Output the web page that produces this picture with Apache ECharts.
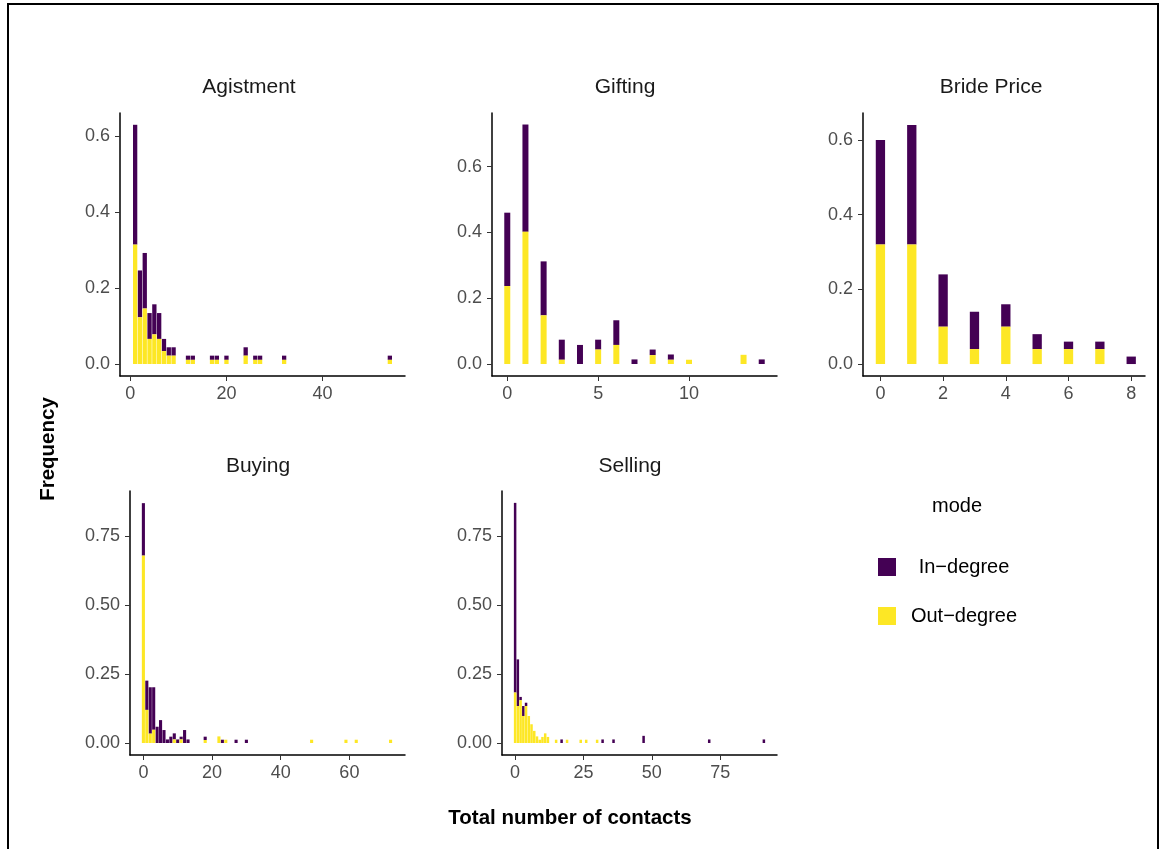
<!DOCTYPE html>
<html>
<head>
<meta charset="utf-8">
<title>Total number of contacts</title>
<script src="https://cdn.jsdelivr.net/npm/echarts@6/dist/echarts.min.js"></script>
<style>
  html, body { margin: 0; padding: 0; background: #fff; }
  #chart { width: 1160px; height: 849px; }
</style>
</head>
<body>
<div id="chart"></div>
<script>
// number of contacts (x) and frequency of in / out degree, one set per trade type
const agistX   = [1, 2, 3, 4, 5, 6, 7, 8, 9, 12, 13, 17, 18, 20, 24, 26, 27, 32, 54]
const agistIn  = [0.315, 0.123, 0.146, 0.068, 0.079, 0.068, 0.032, 0.022, 0.022, 0.011, 0.011, 0.011, 0.011, 0.011, 0.022, 0.011, 0.011, 0.011, 0.011]
const agistOut = [0.314, 0.123, 0.146, 0.066, 0.078, 0.066, 0.034, 0.022, 0.022, 0.011, 0.011, 0.011, 0.011, 0.011, 0.022, 0.011, 0.011, 0.011, 0.011]

const giftX   = [0, 1, 2, 3, 4, 5, 6, 7, 8, 9, 10, 13, 14]
const giftIn  = [0.223, 0.326, 0.164, 0.061, 0.058, 0.030, 0.075, 0.014, 0.017, 0.016, 0, 0, 0.014]
const giftOut = [0.237, 0.402, 0.148, 0.013, 0, 0.044, 0.058, 0, 0.027, 0.013, 0.013, 0.028, 0]

const brideX   = [0, 1, 2, 3, 4, 5, 6, 7, 8]
const brideIn  = [0.28, 0.32, 0.14, 0.10, 0.06, 0.04, 0.02, 0.02, 0.02]
const brideOut = [0.32, 0.32, 0.10, 0.04, 0.10, 0.04, 0.04, 0.04, 0]

const buyX   = [0, 1, 2, 3, 4, 5, 6, 7, 8, 9, 10, 11, 12, 13, 18, 22, 23, 24, 27, 30, 49, 59, 62, 72]
const buyIn  = [0.190, 0.106, 0.168, 0.154, 0.059, 0.083, 0.047, 0.013, 0.023, 0.022, 0.013, 0.010, 0.047, 0.013, 0.012, 0, 0.012, 0, 0.012, 0.012, 0, 0, 0, 0]
const buyOut = [0.679, 0.120, 0.034, 0.048, 0, 0, 0, 0, 0, 0.013, 0, 0.013, 0, 0, 0.011, 0.024, 0, 0.012, 0, 0, 0.012, 0.012, 0.012, 0.012]

const sellX   = [0, 1, 2, 3, 4, 5, 6, 7, 8, 9, 10, 11, 12, 15, 17, 19, 24, 26, 30, 32, 36, 47, 71, 91]
const sellIn  = [0.687, 0.169, 0.012, 0.036, 0.012, 0, 0, 0, 0, 0, 0, 0, 0, 0, 0.013, 0, 0, 0, 0, 0.013, 0.013, 0.026, 0.013, 0.013]
const sellOut = [0.183, 0.134, 0.155, 0.098, 0.134, 0.098, 0.068, 0.044, 0.024, 0.012, 0.022, 0.035, 0.022, 0.012, 0, 0.012, 0.012, 0.012, 0.012, 0, 0, 0, 0, 0]

// tick labels
const agistXTicks = [0, 20, 40]
const giftXTicks  = [0, 5, 10]
const brideXTicks = [0, 2, 4, 6, 8]
const buyXTicks   = [0, 20, 40, 60]
const sellXTicks  = [0, 25, 50, 75]
const propTicks   = [0, 0.2, 0.4, 0.6]
const quarterTicks = [0, 0.25, 0.5, 0.75]

const FONT = "'Liberation Sans', Arial, Helvetica, sans-serif"
const IN_COLOR = '#440154'
const OUT_COLOR = '#FDE725'

const panels = [
  { title: 'Agistment',   x: agistX, inVals: agistIn, outVals: agistOut, xTicks: agistXTicks, yTicks: propTicks,    digits: 1 },
  { title: 'Gifting',     x: giftX,  inVals: giftIn,  outVals: giftOut,  xTicks: giftXTicks,  yTicks: propTicks,    digits: 1 },
  { title: 'Bride Price', x: brideX, inVals: brideIn, outVals: brideOut, xTicks: brideXTicks, yTicks: propTicks,    digits: 1 },
  { title: 'Buying',      x: buyX,   inVals: buyIn,   outVals: buyOut,   xTicks: buyXTicks,   yTicks: quarterTicks, digits: 2 },
  { title: 'Selling',     x: sellX,  inVals: sellIn,  outVals: sellOut,  xTicks: sellXTicks,  yTicks: quarterTicks, digits: 2 }
]

// where each facet sits (px) and its axis ranges
const layout = [
  { left: 120, top: 113, width: 285, height: 263, xMin: -2.15, xMax: 57.15, yMin: -0.0315, yMax: 0.66,  barWidth: 4.3, titleX: 249, titleY: 87 },
  { left: 492, top: 113, width: 285, height: 263, xMin: -0.84, xMax: 14.84, yMin: -0.0364, yMax: 0.763, barWidth: 6,   titleX: 625, titleY: 87 },
  { left: 863, top: 113, width: 282, height: 263, xMin: -0.556, xMax: 8.44, yMin: -0.032, yMax: 0.672,  barWidth: 9.3, titleX: 991, titleY: 87 },
  { left: 130, top: 491, width: 275, height: 264, xMin: -3.9, xMax: 76.2,  yMin: -0.0434, yMax: 0.913, barWidth: 3.1, titleX: 258, titleY: 466 },
  { left: 502, top: 491, width: 275, height: 264, xMin: -4.8, xMax: 95.8,  yMin: -0.0434, yMax: 0.913, barWidth: 2.5, titleX: 630, titleY: 466 }
]

const chart = echarts.init(document.getElementById('chart'))

const grids = []
const xAxes = []
const yAxes = []
const series = []
const graphics = []

panels.forEach((p, i) => {
  const l = layout[i]
  grids.push({ left: l.left, top: l.top, width: l.width, height: l.height, containLabel: false })
  xAxes.push({
    type: 'value',
    gridIndex: i,
    min: l.xMin,
    max: l.xMax,
    axisLine: { onZero: false, lineStyle: { color: '#000', width: 1.5 } },
    axisTick: { customValues: p.xTicks, length: 5, lineStyle: { color: '#333' } },
    axisLabel: { customValues: p.xTicks, margin: 9, color: '#4D4D4D', fontSize: 18, fontFamily: FONT },
    splitLine: { show: false }
  })
  yAxes.push({
    type: 'value',
    gridIndex: i,
    min: l.yMin,
    max: l.yMax,
    axisLine: { show: true, onZero: false, lineStyle: { color: '#000', width: 1.5 } },
    axisTick: { show: true, customValues: p.yTicks, length: 5, lineStyle: { color: '#333' } },
    axisLabel: {
      customValues: p.yTicks, margin: 10, color: '#4D4D4D', fontSize: 18, fontFamily: FONT,
      formatter: v => v.toFixed(p.digits)
    },
    splitLine: { show: false }
  })
  // out-degree: plain bars from zero
  series.push({
    name: 'Out−degree',
    type: 'bar',
    xAxisIndex: i,
    yAxisIndex: i,
    barWidth: l.barWidth,
    itemStyle: { color: OUT_COLOR },
    data: p.x.map((v, j) => [v, p.outVals[j]])
  })
  // in-degree sits on top of out-degree (stack does not work on a value x axis),
  // so it is a custom rect from out to out + in, placed with the axis scales
  series.push({
    name: 'In−degree',
    type: 'custom',
    xAxisIndex: i,
    yAxisIndex: i,
    itemStyle: { color: IN_COLOR },
    encode: { x: 0, y: [1, 2] },
    renderItem: (params, api) => {
      const lo = api.coord([api.value(0), api.value(1)])
      const hi = api.coord([api.value(0), api.value(2)])
      return {
        type: 'rect',
        shape: { x: lo[0] - l.barWidth / 2, y: hi[1], width: l.barWidth, height: lo[1] - hi[1] },
        style: api.style()
      }
    },
    data: p.x.map((v, j) => [v, p.outVals[j], p.outVals[j] + p.inVals[j]]).filter((d, j) => p.inVals[j] > 0)
  })
  graphics.push({
    type: 'text',
    x: l.titleX,
    y: l.titleY,
    style: { text: p.title, fill: '#1A1A1A', font: '21px ' + FONT, align: 'center', verticalAlign: 'middle' }
  })
})

// shared axis titles, legend title and the outer frame
graphics.push(
  {
    type: 'text', x: 48, y: 449, rotation: Math.PI / 2,
    style: { text: 'Frequency', fill: '#000', font: 'bold 20.5px ' + FONT, align: 'center', verticalAlign: 'middle' }
  },
  {
    type: 'text', x: 570, y: 818,
    style: { text: 'Total number of contacts', fill: '#000', font: 'bold 20.5px ' + FONT, align: 'center', verticalAlign: 'middle' }
  },
  {
    type: 'text', x: 957, y: 506,
    style: { text: 'mode', fill: '#000', font: '20px ' + FONT, align: 'center', verticalAlign: 'middle' }
  },
  {
    type: 'rect', silent: true,
    shape: { x: 8, y: 4, width: 1150, height: 900 },
    style: { fill: 'none', stroke: '#000', lineWidth: 2 }
  }
)

chart.setOption({
  animation: false,
  backgroundColor: '#fff',
  grid: grids,
  xAxis: xAxes,
  yAxis: yAxes,
  series: series,
  legend: {
    data: ['In−degree', 'Out−degree'],
    orient: 'vertical',
    left: 873,
    top: 552,
    icon: 'rect',
    itemWidth: 18,
    itemHeight: 18,
    itemGap: 29,
    formatter: name => '{a|' + name + '}',
    textStyle: {
      rich: { a: { width: 126, align: 'center', fontSize: 20, fontFamily: FONT, color: '#000' } }
    }
  },
  graphic: graphics
})
</script>
</body>
</html>
